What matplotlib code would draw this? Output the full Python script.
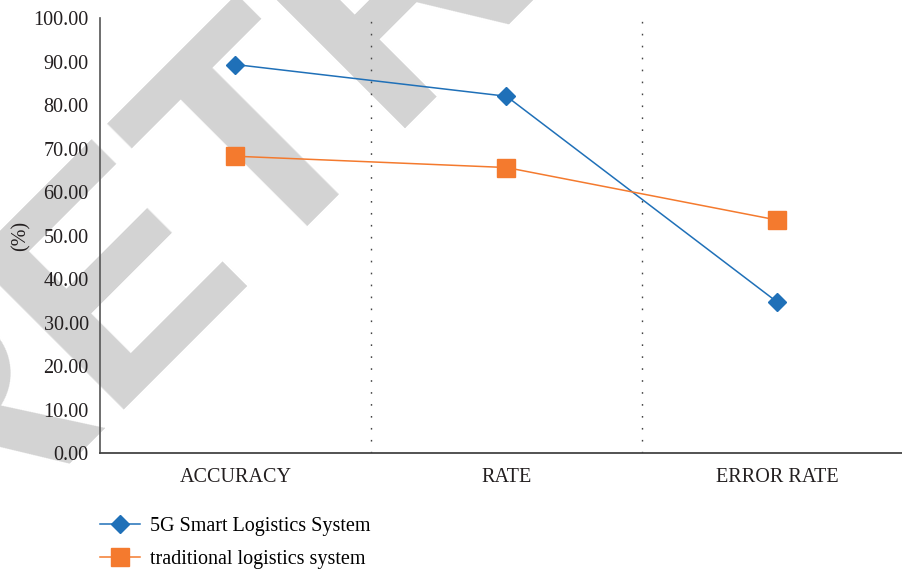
import numpy as np
import matplotlib
matplotlib.use("Agg")
from matplotlib import pyplot as plt

plt.rcParams['font.family'] = ['Liberation Serif', 'DejaVu Serif']

categories = ["ACCURACY", "RATE", "ERROR RATE"]
smart_5g = [89.4, 82.1, 34.7]
traditional = [68.3, 65.7, 53.6]
yticks = [0, 10, 20, 30, 40, 50, 60, 70, 80, 90, 100]

fig = plt.figure(figsize=(9.03, 5.72), dpi=100)

# grey stamp across the page, under everything else
fig.text(-0.061, 0.007, "RETRACTED", rotation=45, rotation_mode='anchor',
         ha='left', va='baseline', fontsize=224, fontweight='bold',
         family='Liberation Sans', color='#d3d3d3', zorder=-1)

ax = fig.add_axes([0.1107, 0.208, 0.9003, 0.7597])
ax.patch.set_facecolor('none')

x = np.arange(len(categories))
ax.plot(x, smart_5g, color='#1f70b8', lw=1.1, marker='D', ms=9,
        label="5G Smart Logistics System", zorder=3)
ax.plot(x, traditional, color='#f47a2e', lw=1.1, marker='s', ms=12.5,
        label="traditional logistics system", zorder=3)

# dotted separators between categories
ax.vlines([0.5, 1.5], 0, 100, colors='#444444', linestyles=(0, (1.2, 7.4)), lw=1)

ax.set_xlim(-0.5, 2.5)
ax.set_ylim(0, 100)
ax.set_xticks(x)
ax.set_xticklabels(categories)
ax.set_yticks(yticks)
ax.set_yticklabels(["%.2f" % v for v in yticks])
ax.tick_params(axis='both', length=0, labelsize=14.5, colors='#231f20')
ax.tick_params(axis='y', pad=8)
ax.tick_params(axis='x', pad=11)
ax.set_ylabel("(%)", fontsize=14.5, color='#231f20', labelpad=2)

for s in ['top', 'right']:
    ax.spines[s].set_visible(False)
ax.spines['left'].set_color('#555555')
ax.spines['left'].set_linewidth(1.2)
ax.spines['bottom'].set_color('#444444')
ax.spines['bottom'].set_linewidth(1.3)

fig.legend(loc='upper left', bbox_to_anchor=(100 / 903, 1 - 517 / 572),
           frameon=False, fontsize=14.5, handlelength=2.0, handletextpad=0.5,
           labelspacing=0.7, borderpad=0, borderaxespad=0)

fig.savefig("out.png", dpi=100)
